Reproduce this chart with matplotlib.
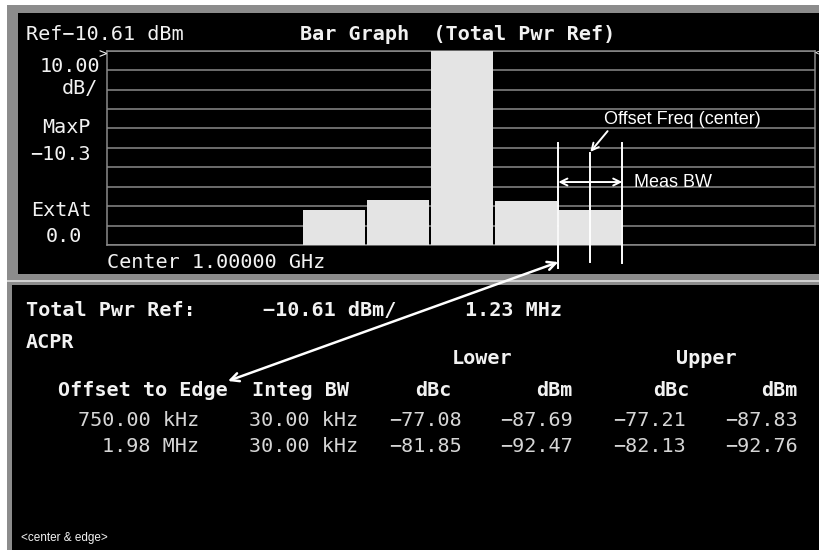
import matplotlib
matplotlib.use("Agg")
import matplotlib.pyplot as plt
import numpy as np
from matplotlib import font_manager
from matplotlib.patches import Rectangle

# measurement setup
ref_level = -10.61
db_per_div = 10
total_pwr = -10.61
span_label = "1.23 MHz"

# ACPR table
offsets = ["750.00 kHz", "1.98 MHz"]
integ_bw = ["30.00 kHz", "30.00 kHz"]
lower_dbc = [-77.08, -81.85]
lower_dbm = [-87.69, -92.47]
upper_dbc = [-77.21, -82.13]
upper_dbm = [-87.83, -92.76]

# bar graph: outer lower, inner lower, carrier, inner upper, outer upper
bar_pos = [-2, -1, 0, 1, 2]
bar_dbm = [lower_dbm[1], lower_dbm[0], total_pwr, upper_dbm[0], upper_dbm[1]]

W, H = 820, 550
fig = plt.figure(figsize=(W / 100, H / 100), dpi=100)
fig.patch.set_facecolor("white")


def fx(x):
    return x / W


def fy(y):
    return 1 - y / H


def bg(x0, y0, x1, y1, color):
    fig.patches.append(Rectangle((fx(x0), fy(y1)), fx(x1 - x0), (y1 - y0) / H,
                                 transform=fig.transFigure, facecolor=color,
                                 edgecolor="none", zorder=-5))


# instrument frame
bg(7, 5, W, H, "#8c8c8c")
bg(18, 13, W, 274, "black")
bg(7, 280, W, 282, "#d0d0d0")
bg(12, 285, W, H, "black")

mono = "DejaVu Sans Mono"
names = {f.name for f in font_manager.fontManager.ttflist}
sans = "Liberation Sans Narrow" if "Liberation Sans Narrow" in names else "Liberation Sans"
ann_size = 15.5 if sans == "Liberation Sans Narrow" else 13
fs = 14.5
fg = "#f2f2f2"
val = "#d6d6d6"

# bar graph axes
bottom = ref_level - 10 * db_per_div
ax = fig.add_axes([fx(107), fy(245), fx(815 - 107), (245 - 50.7) / H])
ax.set_facecolor("none")
ax.set_xlim(-5.55, 5.51)
ax.set_ylim(bottom, ref_level)
ax.set_yticks(np.arange(bottom, ref_level + 0.01, db_per_div))
ax.set_xticks([])
ax.tick_params(length=0, labelleft=False)
ax.grid(axis="y", color="#8a8a8a", linewidth=1.1, zorder=1)
for s in ax.spines.values():
    s.set_color("#8a8a8a")
    s.set_linewidth(1.1)
heights = [v - bottom for v in bar_dbm]
ax.bar(bar_pos, heights, bottom=bottom, width=0.965, color="#e4e4e4", zorder=3)

# offset markers on the outer upper bar
c = bar_pos[-1]
lw = 1.4
ax.plot([c - 0.5, c - 0.5], [-58.1, -122.5], color="white", lw=lw, clip_on=False, zorder=5)
ax.plot([c, c], [-63.3, -119.4], color="white", lw=lw, clip_on=False, zorder=5)
ax.plot([c + 0.5, c + 0.5], [-58.1, -119.9], color="white", lw=lw, clip_on=False, zorder=5)
ax.annotate("", xy=(c - 0.5, -78.2), xytext=(c + 0.5, -78.2),
            arrowprops=dict(arrowstyle="<->,head_length=0.5,head_width=0.25",
                            color="white", lw=lw, shrinkA=0, shrinkB=0), zorder=6)
ax.text(c + 0.68, -78.2, "Meas BW", family=sans, fontsize=ann_size, color="white",
        va="center", ha="left", zorder=6)
ax.text(c + 0.22, -46.0, "Offset Freq (center)", family=sans, fontsize=ann_size,
        color="white", va="center", ha="left", zorder=6)
ax.annotate("", xy=(c, -62.7), xytext=(c + 0.27, -52.0),
            arrowprops=dict(arrowstyle="->,head_length=0.5,head_width=0.25",
                            color="white", lw=lw, shrinkA=0, shrinkB=0), zorder=6)
ax.annotate("", xy=(fx(228), fy(381)), xycoords="figure fraction",
            xytext=(c - 0.5, -119.4), textcoords="data",
            arrowprops=dict(arrowstyle="<->,head_length=0.6,head_width=0.3",
                            color="white", lw=1.8, shrinkA=0, shrinkB=0),
            annotation_clip=False, zorder=6)

# reference markers at grid top
ax.text(-5.55, ref_level - 1.5, ">", family=mono, fontsize=10, color=fg, ha="right", va="center")
ax.text(5.50, ref_level - 1.5, "<", family=mono, fontsize=7.5, color=fg, ha="left", va="center")


def t(x, y, s, ha="left", weight="normal", color=fg, size=fs, family=mono):
    fig.text(fx(x), fy(y), s, ha=ha, va="center", fontsize=size, color=color,
             fontweight=weight, family=family)


def num(v):
    return f"{v:.2f}".replace("-", "\u2212")


# top panel labels
t(26, 34, f"Ref{num(ref_level)} dBm")
t(300, 34, "Bar Graph  (Total Pwr Ref)", weight="bold")
t(100, 66, f"{db_per_div:.2f}", ha="right")
t(98, 88, "dB/", ha="right")
t(91, 128, "MaxP", ha="right")
t(91, 155, "\u221210.3", ha="right")
t(92, 210, "ExtAt", ha="right")
t(82, 237, "0.0", ha="right")
t(107, 262, "Center 1.00000 GHz")

# lower panel: results table
t(26, 310, "Total Pwr Ref:", weight="bold")
t(263, 310, f"{num(total_pwr)} dBm/", weight="bold")
t(465, 310, span_label, weight="bold")
t(26, 343, "ACPR", weight="bold")
t(452, 359, "Lower", weight="bold")
t(676, 359, "Upper", weight="bold")
t(58, 390, "Offset to Edge", weight="bold")
t(252, 390, "Integ BW", weight="bold")
t(452, 390, "dBc", ha="right", weight="bold")
t(573, 390, "dBm", ha="right", weight="bold")
t(690, 390, "dBc", ha="right", weight="bold")
t(798, 390, "dBm", ha="right", weight="bold")

for i, y in enumerate([420, 446]):
    t(199, y, offsets[i], ha="right", color=val)
    t(358, y, integ_bw[i], ha="right", color=val)
    t(462, y, num(lower_dbc[i]), ha="right", color=val)
    t(573, y, num(lower_dbm[i]), ha="right", color=val)
    t(686, y, num(upper_dbc[i]), ha="right", color=val)
    t(798, y, num(upper_dbm[i]), ha="right", color=val)

t(21, 538, "<center & edge>", size=8.5, family="Liberation Sans")

fig.savefig("out.png", dpi=100, facecolor=fig.get_facecolor())
